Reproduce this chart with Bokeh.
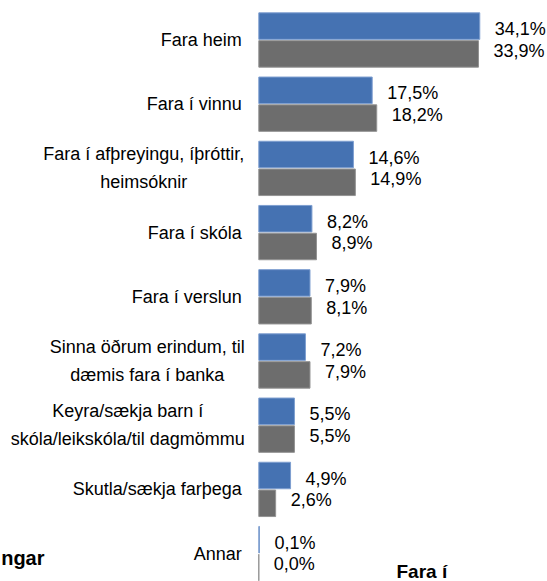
import numpy as np
from bokeh.plotting import figure
from bokeh.models import Range1d, ColumnDataSource, Label
from bokeh.core.properties import value
from bokeh.embed import file_html
from bokeh.resources import INLINE

# ---- data ----
categories = [
    "Fara heim",
    "Fara í vinnu",
    "Fara í afþreyingu, íþróttir,\nheimsóknir",
    "Fara í skóla",
    "Fara í verslun",
    "Sinna öðrum erindum, til\ndæmis fara í banka",
    "Keyra/sækja barn í\nskóla/leikskóla/til dagmömmu",
    "Skutla/sækja farþega",
    "Annar",
]
series_blue = [34.1, 17.5, 14.6, 8.2, 7.9, 7.2, 5.5, 4.9, 0.1]
series_gray = [33.9, 18.2, 14.9, 8.9, 8.1, 7.9, 5.5, 2.6, 0.0]

FONT = "Liberation Sans"
FS = 18
BLUE = "#4572B2"
GRAY = "#6D6D6D"

W, H = 547, 581
PX_PER_PCT = 6.48
ZERO_X = 258.3
UNIT = 64.2
FIRST_Y = 39.5

# approximate advance widths (em/1000) of Liberation Sans, used to centre
# the lines of wrapped category labels under each other
ADV = {"F": 611, "a": 556, "r": 333, "h": 556, "e": 556, "i": 222, "m": 833,
       " ": 278, "í": 278, "v": 500, "n": 556, "u": 556, "f": 278, "þ": 556,
       "y": 500, "g": 556, ",": 278, "t": 278, "ó": 556, "k": 500, "s": 500,
       "S": 667, "ð": 556, "d": 556, "æ": 889, "b": 556, "K": 667, "/": 278,
       "j": 222, "l": 222, "o": 556, "p": 556, "ö": 556, "A": 667, "c": 500}

def text_width(s):
    return sum(ADV.get(ch, 556) for ch in s) * FS / 1000.0

p = figure(width=W, height=H, output_backend="svg", toolbar_location=None,
           x_range=Range1d(-ZERO_X / PX_PER_PCT, (W - ZERO_X) / PX_PER_PCT),
           y_range=Range1d((H - FIRST_Y) / UNIT, -FIRST_Y / UNIT),
           min_border=0, min_border_left=0, min_border_right=0,
           min_border_top=0, min_border_bottom=0)
p.axis.visible = False
p.grid.visible = False
p.outline_line_color = None
p.background_fill_color = "white"
p.border_fill_color = "white"

idx = np.arange(len(categories))
off = 0.2165
bh = 0.413

def fmt(v):
    return f"{v:.1f}".replace(".", ",") + "%"

src_b = ColumnDataSource(dict(y=idx - off, v=series_blue, lab=[fmt(v) for v in series_blue]))
src_g = ColumnDataSource(dict(y=idx + off, v=series_gray, lab=[fmt(v) for v in series_gray]))

p.hbar(y="y", left=0, right="v", height=bh, source=src_b,
       fill_color=BLUE, line_color="#7E9FD0", line_width=1)
p.hbar(y="y", left=0, right="v", height=bh, source=src_g,
       fill_color=GRAY, line_color="#939393", line_width=1)

p.text(x="v", y="y", text="lab", source=src_b, x_offset=15, y_offset=3,
       text_font=value(FONT), text_font_size=f"{FS}px", text_color="#000000",
       text_align="left", text_baseline="middle")
p.text(x="v", y="y", text="lab", source=src_g, x_offset=15, y_offset=-3,
       text_font=value(FONT), text_font_size=f"{FS}px", text_color="#000000",
       text_align="left", text_baseline="middle")

# category labels: single-line right aligned, wrapped ones centred line by line
single = [i for i, c in enumerate(categories) if "\n" not in c]
multi = [i for i, c in enumerate(categories) if "\n" in c]

src_s = ColumnDataSource(dict(x=[0] * len(single), y=[idx[i] for i in single],
                              t=[categories[i] for i in single]))
p.text(x="x", y="y", text="t", source=src_s, x_offset=-17,
       text_font=value(FONT), text_font_size=f"{FS}px", text_color="#000000",
       text_align="right", text_baseline="middle")

src_m = ColumnDataSource(dict(
    x=[0] * len(multi), y=[idx[i] for i in multi],
    t=[categories[i] for i in multi],
    xo=[-(14 + max(text_width(l) for l in categories[i].split("\n")) / 2) for i in multi]))
p.text(x="x", y="y", text="t", source=src_m, x_offset="xo",
       text_font=value(FONT), text_font_size=f"{FS}px", text_color="#000000",
       text_align="center", text_baseline="middle", text_line_height=1.4)

# cut-off bold texts of neighbouring elements
p.add_layout(Label(x=44, y=H - 557, x_units="screen", y_units="screen", text="ngar",
                   text_font=FONT, text_font_size="20px", text_font_style="bold",
                   text_align="right", text_baseline="alphabetic", text_color="#000000"))
p.add_layout(Label(x=396, y=H - 571, x_units="screen", y_units="screen", text="Fara í",
                   text_font=FONT, text_font_size="19px", text_font_style="bold",
                   text_align="left", text_baseline="alphabetic", text_color="#000000"))

open("out.html", "w").write(file_html(p, INLINE))
